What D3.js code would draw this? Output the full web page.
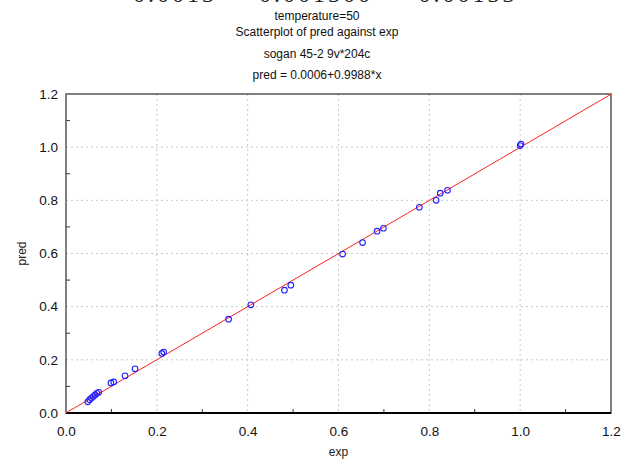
<!DOCTYPE html>
<html>
<head>
<meta charset="utf-8">
<script src="https://cdn.jsdelivr.net/npm/d3@7"></script>
<style>
  body { margin: 0; background: #fff; }
  svg { display: block; font-family: "Liberation Sans", Arial, sans-serif; }
</style>
</head>
<body>
<div id="chart"></div>
<script>
// clipped header left over from the page above
var headerTexts = ["0.0013", "0.001300", "0.00133"];
var titleLines = ["temperature=50", "Scatterplot of pred against exp", "sogan 45-2 9v*204c", "pred = 0.0006+0.9988*x"];

// observed values
var expVals  = [0.048, 0.052, 0.056, 0.060, 0.064, 0.068, 0.072, 0.099, 0.105, 0.130, 0.152, 0.211, 0.215,
                0.358, 0.407, 0.481, 0.495, 0.609, 0.653, 0.685, 0.699, 0.778, 0.815, 0.824, 0.840, 1.000, 1.002];
var predVals = [0.042, 0.050, 0.056, 0.062, 0.068, 0.074, 0.078, 0.113, 0.117, 0.140, 0.166, 0.224, 0.229,
                0.353, 0.407, 0.462, 0.481, 0.598, 0.641, 0.684, 0.695, 0.774, 0.800, 0.827, 0.838, 1.006, 1.012];

var fitA = 0.0006, fitB = 0.9988;
var ticks = [0, 0.2, 0.4, 0.6, 0.8, 1.0, 1.2];
var minorTicks = [0.1, 0.3, 0.5, 0.7, 0.9, 1.1];

var W = 633, H = 460;
var margin = {top: 94, right: 22, bottom: 47, left: 66};
var width = W - margin.left - margin.right, height = H - margin.top - margin.bottom;

var svg = d3.select("#chart").append("svg")
  .attr("width", W).attr("height", H);

// top clipped text (only the bottom of the glyphs shows, as in the source)
var hx = [175, 316, 468];
for (var i = 0; i < headerTexts.length; i++) {
  svg.append("text")
    .attr("x", hx[i]).attr("y", 2)
    .attr("text-anchor", "middle")
    .attr("font-family", "Liberation Serif")
    .attr("font-size", 24)
    .attr("letter-spacing", 3)
    .attr("fill", "#222")
    .text(headerTexts[i]);
}

var titleY = [20, 36, 58, 79];
for (var i = 0; i < titleLines.length; i++) {
  svg.append("text")
    .attr("x", 317).attr("y", titleY[i])
    .attr("text-anchor", "middle")
    .attr("font-size", 12)
    .attr("fill", "#111")
    .text(titleLines[i]);
}

var g = svg.append("g").attr("transform", "translate(" + margin.left + "," + margin.top + ")");

var x = d3.scaleLinear().domain([0, 1.2]).range([0, width]);
var y = d3.scaleLinear().domain([0, 1.2]).range([height, 0]);

// grid
g.selectAll(".gx").data(ticks.slice(1, -1)).enter().append("line")
  .attr("x1", d => x(d)).attr("x2", d => x(d))
  .attr("y1", 0).attr("y2", height)
  .attr("stroke", "#c8c8c8").attr("stroke-dasharray", "2,3");
g.selectAll(".gy").data(ticks.slice(1, -1)).enter().append("line")
  .attr("y1", d => y(d)).attr("y2", d => y(d))
  .attr("x1", 0).attr("x2", width)
  .attr("stroke", "#c8c8c8").attr("stroke-dasharray", "2,3");

// minor ticks, inward
g.selectAll(".mx").data(minorTicks).enter().append("line")
  .attr("x1", d => x(d)).attr("x2", d => x(d))
  .attr("y1", height).attr("y2", height - 4)
  .attr("stroke", "#333");
g.selectAll(".my").data(minorTicks).enter().append("line")
  .attr("y1", d => y(d)).attr("y2", d => y(d))
  .attr("x1", 0).attr("x2", 4)
  .attr("stroke", "#333");

// frame
g.append("rect").attr("x", 0).attr("y", 0).attr("width", width).attr("height", height)
  .attr("fill", "none").attr("stroke", "#555").attr("stroke-width", 1.5);
g.append("line").attr("x1", 0).attr("x2", width).attr("y1", height).attr("y2", height)
  .attr("stroke", "#000").attr("stroke-width", 2);

// axes labels
var xAxis = d3.axisBottom(x).tickValues(ticks).tickSize(0).tickPadding(13).tickFormat(d3.format(".1f"));
var xa = g.append("g").attr("transform", "translate(0," + height + ")").call(xAxis);
xa.select(".domain").remove();
xa.selectAll("text").attr("font-size", 13.5).attr("fill", "#111").attr("font-family", "Liberation Sans");

var yAxis = d3.axisLeft(y).tickValues(ticks).tickSize(0).tickPadding(8).tickFormat(d3.format(".1f"));
var ya = g.append("g").call(yAxis);
ya.select(".domain").remove();
ya.selectAll("text").attr("font-size", 13.5).attr("fill", "#111").attr("font-family", "Liberation Sans");

svg.append("text").attr("x", margin.left + width / 2).attr("y", 456)
  .attr("text-anchor", "middle").attr("font-size", 12).attr("fill", "#222").text("exp");
svg.append("text").attr("transform", "translate(26," + (margin.top + height / 2) + ") rotate(-90)")
  .attr("text-anchor", "middle").attr("font-size", 12).attr("fill", "#222").text("pred");

// fit line
var line = d3.line().x(d => x(d)).y(d => y(fitA + fitB * d));
g.append("path").attr("d", line([0, 1.2]))
  .attr("fill", "none").attr("stroke", "#ff2020").attr("stroke-width", 1);

// points
var pts = expVals.map((v, i) => [v, predVals[i]]);
g.selectAll(".pt").data(pts).enter().append("circle")
  .attr("cx", d => x(d[0])).attr("cy", d => y(d[1])).attr("r", 2.8)
  .attr("fill", "none").attr("stroke", "#2020ff").attr("stroke-width", 1.1);
</script>
</body>
</html>
